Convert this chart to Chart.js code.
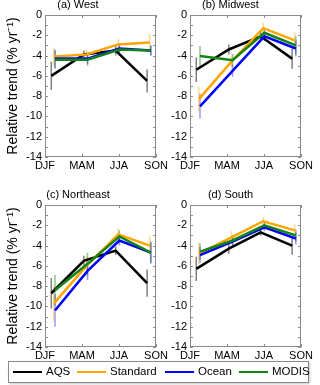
<!DOCTYPE html>
<html>
<head>
<meta charset="utf-8">
<script src="https://cdn.jsdelivr.net/npm/chart.js@4.4.0/dist/chart.umd.min.js"></script>
<style>
  body { margin: 0; background: #fff; width: 320px; height: 385px; position: relative; overflow: hidden; font-family: "Liberation Sans", Arial, sans-serif; }
  canvas { position: absolute; }
  #legend { position: absolute; left: 8px; top: 361px; width: 299px; height: 20px; border: 1px solid #8a8a8a; background: #fff; box-shadow: 1px 1px 2px #c8c8c8; }
  #legend .ln { position: absolute; top: 9px; width: 29px; height: 2px; }
  #legend .tx { position: absolute; top: 2px; font-size: 11.5px; color: #000; line-height: 14px; }
</style>
</head>
<body>
<canvas id="panelA"></canvas>
<canvas id="panelB"></canvas>
<canvas id="panelC"></canvas>
<canvas id="panelD"></canvas>
<div id="legend"></div>
<script>
// --- data ---
const seasons = ["DJF", "MAM", "JJA", "SON"];
const seasonX = [1.22, 2.1, 2.96, 3.81];
const seriesNames = ["AQS", "Standard", "Ocean", "MODIS"];

const westAQS = [-6.0, -3.9, -3.5, -6.5];
const westStd = [-4.1, -3.9, -2.9, -2.7];
const westOcean = [-4.3, -4.3, -3.3, -3.5];
const westModis = [-4.4, -4.4, -3.4, -3.5];
const westAQSErr = [1.4, 0.4, 0.5, 1.15];
const westStdErr = [0.9, 0.5, 0.5, 0.85];
const westOceanErr = [0.9, 0.5, 0.4, 0.5];
const westModisErr = [0.9, 0.6, 0.4, 0.5];

const midwestAQS = [-5.4, -3.4, -2.1, -4.3];
const midwestStd = [-8.3, -4.6, -1.3, -2.5];
const midwestOcean = [-9.0, -5.5, -2.1, -3.3];
const midwestModis = [-4.05, -4.45, -1.75, -3.0];
const midwestAQSErr = [1.2, 0.5, 0.5, 1.0];
const midwestStdErr = [1.2, 0.6, 0.5, 0.8];
const midwestOceanErr = [1.2, 0.6, 0.5, 0.8];
const midwestModisErr = [1.0, 0.6, 0.5, 0.9];

const northeastAQS = [-8.7, -5.5, -4.5, -7.7];
const northeastStd = [-9.7, -6.0, -2.9, -4.0];
const northeastOcean = [-10.4, -6.5, -3.5, -4.7];
const northeastModis = [-8.4, -5.8, -3.1, -4.7];
const northeastAQSErr = [1.5, 0.5, 0.4, 1.35];
const northeastStdErr = [1.8, 1.0, 0.6, 0.9];
const northeastOceanErr = [1.6, 0.9, 0.5, 1.0];
const northeastModisErr = [1.5, 1.1, 0.6, 1.1];

const southAQS = [-6.3, -4.3, -2.7, -4.0];
const southStd = [-4.8, -3.2, -1.6, -2.5];
const southOcean = [-4.95, -3.6, -2.2, -3.3];
const southModis = [-4.6, -3.5, -2.0, -3.0];
const southAQSErr = [1.2, 0.5, 0.3, 0.9];
const southStdErr = [1.1, 0.6, 0.4, 0.6];
const southOceanErr = [0.8, 0.5, 0.4, 0.6];
const southModisErr = [0.8, 0.5, 0.4, 0.6];

// --- styles ---
const FONT = '"Liberation Sans", Arial, sans-serif';
const lineColors = ["#000000", "#ffa500", "#0000ff", "#138313"];
const errColors = ["rgba(0,0,0,0.5)", "rgba(255,165,0,0.45)", "rgba(0,0,255,0.4)", "rgba(0,128,0,0.45)"];
const xShift = [-0.05, 0.02, 0.05, 0.05];
const TITLE_H = 11 * 1.2 + 3;
const XAXIS_H = 18;

const framePlugin = {
  id: "frame",
  beforeDatasetsDraw(chart) {
    const { ctx, chartArea: a, scales } = chart;
    ctx.save();
    ctx.strokeStyle = "#8c8c8c";
    ctx.lineWidth = 1;
    ctx.strokeRect(a.left + 0.5, a.top + 0.5, a.right - a.left - 1, a.bottom - a.top - 1);
    ctx.beginPath();
    for (let v = -14; v <= 0; v++) {
      const y = Math.round(scales.y.getPixelForValue(v)) + 0.5;
      ctx.moveTo(a.left, y); ctx.lineTo(a.left + 3, y);
      ctx.moveTo(a.right, y); ctx.lineTo(a.right - 3, y);
    }
    for (let v = 1; v <= 4; v++) {
      const x = Math.round(scales.x.getPixelForValue(v)) + 0.5;
      ctx.moveTo(x, a.top); ctx.lineTo(x, a.top + 3);
      ctx.moveTo(x, a.bottom); ctx.lineTo(x, a.bottom - 3);
    }
    ctx.stroke();
    ctx.restore();
  }
};

function makePanel(id, rect, area, title, vals, errs, yTitle) {
  const cv = document.getElementById(id);
  cv.width = rect.w;
  cv.height = rect.h;
  cv.style.left = rect.left + "px";
  cv.style.top = rect.top + "px";

  const datasets = [];
  vals.forEach((v, i) => {
    datasets.push({
      label: seriesNames[i],
      data: seasonX.map((x, j) => ({ x: x + xShift[i], y: v[j] })),
      borderColor: lineColors[i],
      borderWidth: 2.5,
      pointRadius: 0,
      tension: 0,
      order: 4 - i
    });
  });
  errs.forEach((e, i) => {
    const pts = [];
    seasonX.forEach((x, j) => {
      const xx = x + xShift[i];
      pts.push({ x: xx, y: vals[i][j] - e[j] }, { x: xx, y: vals[i][j] + e[j] }, { x: xx + 0.01, y: null });
    });
    datasets.push({
      label: seriesNames[i] + " err",
      data: pts,
      borderColor: errColors[i],
      borderWidth: 1.5,
      pointRadius: 0,
      spanGaps: false,
      order: 10 + i
    });
  });

  new Chart(cv, {
    type: "line",
    data: { datasets },
    options: {
      responsive: false,
      animation: false,
      devicePixelRatio: 1,
      layout: {
        padding: {
          left: 0,
          top: area.t - rect.top - TITLE_H,
          right: rect.left + rect.w - area.r,
          bottom: rect.top + rect.h - area.b - XAXIS_H
        }
      },
      plugins: {
        legend: { display: false },
        tooltip: { enabled: false },
        title: {
          display: true, text: title, color: "#000",
          font: { size: 11, weight: "normal", family: FONT },
          padding: { top: 0, bottom: 3 }
        }
      },
      scales: {
        x: {
          type: "linear", min: 1, max: 4,
          grid: { display: false, drawTicks: false },
          border: { display: false },
          afterBuildTicks: (s) => { s.ticks = [1, 2, 3, 4].map((v) => ({ value: v })); },
          ticks: {
            callback: (v) => seasons[v - 1],
            color: "#000", font: { size: 11, family: FONT },
            padding: 2, maxRotation: 0, autoSkip: false
          },
          afterFit: (s) => { s.height = XAXIS_H; s.paddingLeft = 0; s.paddingRight = 0; }
        },
        y: {
          min: -14, max: 0,
          grid: { display: false, drawTicks: false },
          border: { display: false },
          ticks: { stepSize: 2, color: "#000", font: { size: 11, family: FONT }, padding: 3 },
          title: {
            display: yTitle, text: "Relative trend (% yr\u207B\u00B9)", color: "#000",
            font: { size: 14, family: FONT }, padding: { top: 5, bottom: 0 }
          },
          afterFit: (s) => { s.width = area.l - rect.left; s.paddingTop = 0; s.paddingBottom = 0; }
        }
      }
    },
    plugins: [framePlugin]
  });
}

makePanel("panelA", { left: 0, top: -4, w: 180, h: 186 }, { l: 45, t: 15, r: 156, b: 157 }, "(a) West",
  [westAQS, westStd, westOcean, westModis], [westAQSErr, westStdErr, westOceanErr, westModisErr], true);
makePanel("panelB", { left: 160, top: -4, w: 160, h: 186 }, { l: 190, t: 15, r: 301, b: 157 }, "(b) Midwest",
  [midwestAQS, midwestStd, midwestOcean, midwestModis], [midwestAQSErr, midwestStdErr, midwestOceanErr, midwestModisErr], false);
makePanel("panelC", { left: 0, top: 186, w: 180, h: 186 }, { l: 45, t: 205, r: 156, b: 347 }, "(c) Northeast",
  [northeastAQS, northeastStd, northeastOcean, northeastModis], [northeastAQSErr, northeastStdErr, northeastOceanErr, northeastModisErr], true);
makePanel("panelD", { left: 160, top: 186, w: 160, h: 186 }, { l: 190, t: 205, r: 301, b: 347 }, "(d) South",
  [southAQS, southStd, southOcean, southModis], [southAQSErr, southStdErr, southOceanErr, southModisErr], false);

// --- legend ---
const legend = document.getElementById("legend");
const legendLineX = [4, 68, 156, 230];
seriesNames.forEach((name, i) => {
  const ln = document.createElement("div");
  ln.className = "ln";
  ln.style.left = legendLineX[i] + "px";
  ln.style.background = lineColors[i];
  legend.appendChild(ln);
  const tx = document.createElement("span");
  tx.className = "tx";
  tx.style.left = (legendLineX[i] + 33) + "px";
  tx.textContent = name;
  legend.appendChild(tx);
});
</script>
</body>
</html>
